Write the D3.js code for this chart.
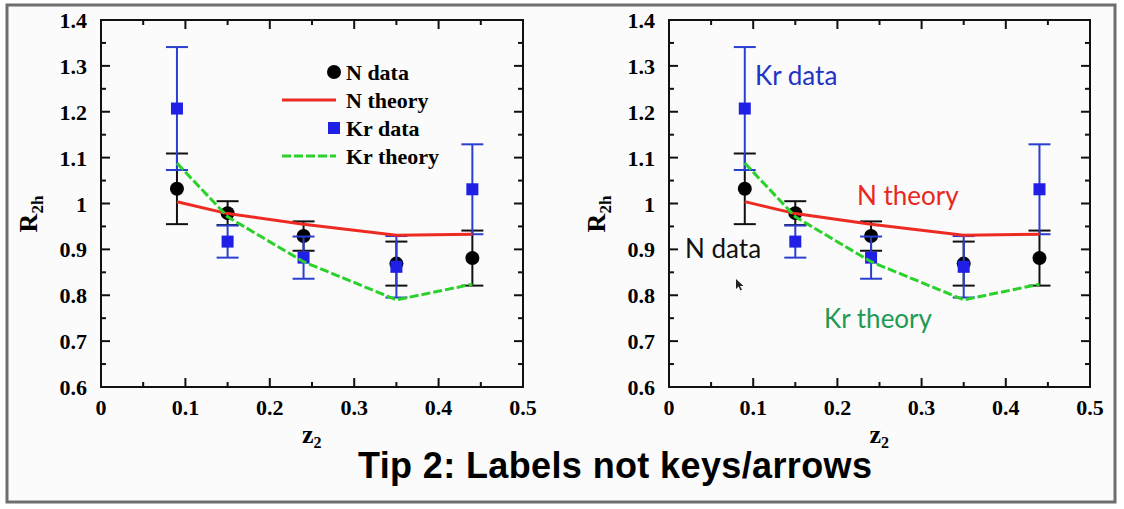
<!DOCTYPE html>
<html>
<head>
<meta charset="utf-8">
<script src="https://cdn.jsdelivr.net/npm/d3@7"></script>
<style>
  body { margin: 0; background: #fff; }
  svg { display: block; }
</style>
</head>
<body>
<div id="chart"></div>
<script>
// values
var zValues = [0.09, 0.15, 0.24, 0.35, 0.44];
var nData = [1.032, 0.979, 0.929, 0.869, 0.881];
var nErr = [0.077, 0.026, 0.032, 0.048, 0.060];
var krData = [1.207, 0.917, 0.882, 0.862, 1.031];
var krErr = [0.134, 0.035, 0.046, 0.067, 0.098];
var nTheory = [1.004, 0.978, 0.955, 0.931, 0.933];
var krTheory = [1.088, 0.971, 0.873, 0.790, 0.824];
var xTicks = [0, 0.1, 0.2, 0.3, 0.4, 0.5];
var xTickLabels = ["0", "0.1", "0.2", "0.3", "0.4", "0.5"];
var yTicks = [0.6, 0.7, 0.8, 0.9, 1.0, 1.1, 1.2, 1.3, 1.4];
var yTickLabels = ["0.6", "0.7", "0.8", "0.9", "1", "1.1", "1.2", "1.3", "1.4"];
var legendLabels = ["N data", "N theory", "Kr data", "Kr theory"];
var title = "Tip 2: Labels not keys/arrows";

var W = 1124, H = 509;
var RED = "#ee2b22", GREEN = "#2bd12b", BLUE = "#1f1fe6", EBLUE = "#2a3fd0";
var serif = "'Liberation Serif', 'Times New Roman', serif";
var sans = "Lato, 'Open Sans', sans-serif";

var svg = d3.select("#chart").append("svg")
  .attr("width", W)
  .attr("height", H);

svg.append("rect")
  .attr("x", 7).attr("y", 5)
  .attr("width", 1108).attr("height", 497)
  .attr("fill", "#fbfbfb")
  .attr("stroke", "#6e6e6e")
  .attr("stroke-width", 3);

function drawPanel(left, right, mode) {
  var x = d3.scaleLinear().domain([0, 0.5]).range([left, right]);
  var y = d3.scaleLinear().domain([0.6, 1.4]).range([387, 20]);
  var g = svg.append("g");

  var minorX = d3.range(0, 0.5001, 0.05);
  var minorY = d3.range(0.6, 1.4001, 0.05);

  // frame
  g.append("rect")
    .attr("x", x(0)).attr("y", y(1.4))
    .attr("width", x(0.5) - x(0)).attr("height", y(0.6) - y(1.4))
    .attr("fill", "none").attr("stroke", "#111").attr("stroke-width", 2);

  // inward ticks on all four sides
  minorX.forEach(function(v, i) {
    var len = i % 2 == 0 ? 9 : 5;
    g.append("line").attr("x1", x(v)).attr("x2", x(v))
      .attr("y1", y(0.6)).attr("y2", y(0.6) - len)
      .attr("stroke", "#111").attr("stroke-width", 2);
    g.append("line").attr("x1", x(v)).attr("x2", x(v))
      .attr("y1", y(1.4)).attr("y2", y(1.4) + len)
      .attr("stroke", "#111").attr("stroke-width", 2);
  });
  minorY.forEach(function(v, i) {
    var len = i % 2 == 0 ? 9 : 5;
    g.append("line").attr("y1", y(v)).attr("y2", y(v))
      .attr("x1", x(0)).attr("x2", x(0) + len)
      .attr("stroke", "#111").attr("stroke-width", 2);
    g.append("line").attr("y1", y(v)).attr("y2", y(v))
      .attr("x1", x(0.5)).attr("x2", x(0.5) - len)
      .attr("stroke", "#111").attr("stroke-width", 2);
  });

  g.selectAll(".xl").data(xTicks).enter().append("text")
    .attr("x", function(d) { return x(d); })
    .attr("y", 415)
    .attr("text-anchor", "middle")
    .style("font-family", serif).style("font-weight", "bold").style("font-size", "22px")
    .text(function(d, i) { return xTickLabels[i]; });

  g.selectAll(".yl").data(yTicks).enter().append("text")
    .attr("x", x(0) - 14)
    .attr("y", function(d) { return y(d) + 8; })
    .attr("text-anchor", "end")
    .style("font-family", serif).style("font-weight", "bold").style("font-size", "22px")
    .text(function(d, i) { return yTickLabels[i]; });

  // axis titles
  var yt = g.append("text")
    .attr("transform", "translate(" + (x(0) - 64) + "," + 214 + ") rotate(-90)")
    .attr("text-anchor", "middle")
    .style("font-family", serif).style("font-weight", "bold").style("font-size", "26px");
  yt.append("tspan").text("R");
  yt.append("tspan").attr("dy", 6).style("font-size", "17px").text("2h");

  var xt = g.append("text")
    .attr("x", x(0.25) - 10).attr("y", 443)
    .style("font-family", serif).style("font-weight", "bold").style("font-size", "26px");
  xt.append("tspan").text("z");
  xt.append("tspan").attr("dy", 5).style("font-size", "16px").text("2");

  var pts = zValues.map(function(z, i) {
    return { z: z, n: nData[i], ne: nErr[i], kr: krData[i], ke: krErr[i] };
  });

  // N data error bars + circles
  pts.forEach(function(d) {
    g.append("line").attr("x1", x(d.z)).attr("x2", x(d.z))
      .attr("y1", y(d.n - d.ne)).attr("y2", y(d.n + d.ne))
      .attr("stroke", "#111").attr("stroke-width", 2);
    [d.n - d.ne, d.n + d.ne].forEach(function(v) {
      g.append("line").attr("x1", x(d.z) - 11).attr("x2", x(d.z) + 11)
        .attr("y1", y(v)).attr("y2", y(v))
        .attr("stroke", "#111").attr("stroke-width", 2);
    });
  });
  g.selectAll(".nd").data(pts).enter().append("circle")
    .attr("cx", function(d) { return x(d.z); })
    .attr("cy", function(d) { return y(d.n); })
    .attr("r", 7).attr("fill", "#000");

  // Kr data error bars + squares
  pts.forEach(function(d) {
    g.append("line").attr("x1", x(d.z)).attr("x2", x(d.z))
      .attr("y1", y(d.kr - d.ke)).attr("y2", y(d.kr + d.ke))
      .attr("stroke", EBLUE).attr("stroke-width", 2);
    [d.kr - d.ke, d.kr + d.ke].forEach(function(v) {
      g.append("line").attr("x1", x(d.z) - 11).attr("x2", x(d.z) + 11)
        .attr("y1", y(v)).attr("y2", y(v))
        .attr("stroke", EBLUE).attr("stroke-width", 2);
    });
  });
  g.selectAll(".kd").data(pts).enter().append("rect")
    .attr("x", function(d) { return x(d.z) - 6; })
    .attr("y", function(d) { return y(d.kr) - 6; })
    .attr("width", 12).attr("height", 12).attr("fill", BLUE);

  var line = d3.line().x(function(d) { return x(d[0]); }).y(function(d) { return y(d[1]); });
  g.append("path")
    .attr("d", line(zValues.map(function(z, i) { return [z, nTheory[i]]; })))
    .attr("fill", "none").attr("stroke", RED).attr("stroke-width", 3);
  g.append("path")
    .attr("d", line(zValues.map(function(z, i) { return [z, krTheory[i]]; })))
    .attr("fill", "none").attr("stroke", GREEN).attr("stroke-width", 3)
    .attr("stroke-dasharray", "9,3");

  if (mode == "legend") {
    var lx = x(0) + 181, ly = 72;
    var lf = function(t, i) {
      g.append("text").attr("x", lx + 64).attr("y", ly + 8 + i * 28)
        .style("font-family", serif).style("font-weight", "bold").style("font-size", "22px")
        .text(t);
    };
    g.append("circle").attr("cx", lx + 52).attr("cy", ly).attr("r", 7).attr("fill", "#000");
    g.append("line").attr("x1", lx).attr("x2", lx + 54).attr("y1", ly + 28).attr("y2", ly + 28)
      .attr("stroke", RED).attr("stroke-width", 3);
    g.append("rect").attr("x", lx + 46).attr("y", ly + 50).attr("width", 12).attr("height", 12)
      .attr("fill", BLUE);
    g.append("line").attr("x1", lx).attr("x2", lx + 54).attr("y1", ly + 84).attr("y2", ly + 84)
      .attr("stroke", GREEN).attr("stroke-width", 3).attr("stroke-dasharray", "9,3");
    legendLabels.forEach(lf);
  } else {
    var lab = [
      { t: legendLabels[2], px: 755, py: 85, c: "#2233c4" },
      { t: legendLabels[1], px: 857, py: 205, c: "#e8281f" },
      { t: legendLabels[0], px: 685, py: 258, c: "#111" },
      { t: legendLabels[3], px: 824, py: 328, c: "#1e9a52" }
    ];
    lab.forEach(function(d) {
      g.append("text").attr("x", d.px).attr("y", d.py)
        .attr("fill", d.c)
        .style("font-family", sans).style("font-size", "26px")
        .text(d.t);
    });
    // mouse pointer left in the screenshot
    g.append("path")
      .attr("d", "M736,279 l0,10 l2.5,-2.5 l2,4 l1.5,-0.8 l-2,-3.8 l3.5,0 z")
      .attr("fill", "#222");
  }
}

drawPanel(101, 523, "legend");
drawPanel(669, 1090, "labels");

svg.append("text")
  .attr("x", 358).attr("y", 478)
  .attr("textLength", 514)
  .style("font-family", "'Liberation Sans', Arial, sans-serif")
  .style("font-weight", "bold").style("font-size", "36px")
  .attr("fill", "#000")
  .text(title);
</script>
</body>
</html>
